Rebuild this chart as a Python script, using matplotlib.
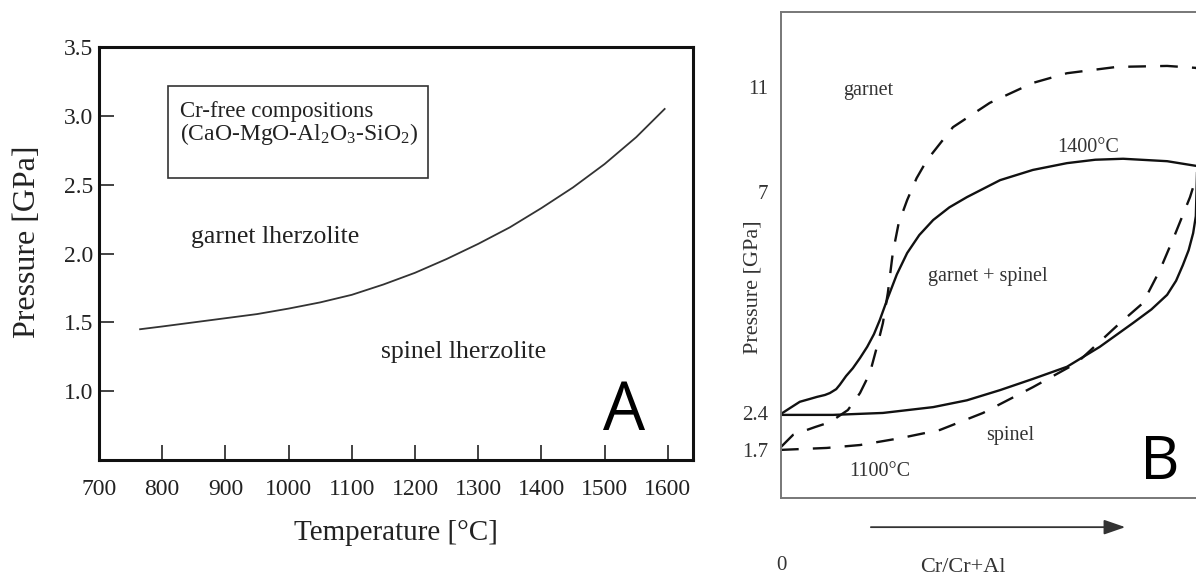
import matplotlib
matplotlib.use("Agg")
import matplotlib.pyplot as plt
from matplotlib.patches import Rectangle

plt.rcParams['font.family'] = ['Liberation Serif', 'DejaVu Serif']
plt.rcParams['mathtext.fontset'] = 'custom'
plt.rcParams['mathtext.rm'] = 'Liberation Serif'
plt.rcParams['mathtext.it'] = 'Liberation Serif:italic'

# --- panel A: garnet/spinel transition, Cr-free system ---
temperature = [765, 800, 850, 900, 950, 1000, 1050, 1100, 1150, 1200, 1250,
               1300, 1350, 1400, 1450, 1500, 1550, 1595]
pressure = [1.45, 1.47, 1.50, 1.53, 1.56, 1.60, 1.645, 1.70, 1.775, 1.86, 1.96,
            2.07, 2.19, 2.33, 2.48, 2.65, 2.845, 3.05]
a_xticks = [700, 800, 900, 1000, 1100, 1200, 1300, 1400, 1500, 1600]
a_yticks = [1.0, 1.5, 2.0, 2.5, 3.0, 3.5]

# --- panel B: schematic, Cr/(Cr+Al) vs relative pressure ---
b_ytick_pos = [0.099, 0.175, 0.630, 0.846]
b_ytick_lab = ['1.7', '2.4', '7', '11']

hot_upper_x = [0.0, 0.020, 0.042, 0.065, 0.080, 0.098, 0.109, 0.123, 0.131, 0.145,
               0.160, 0.176, 0.192, 0.207, 0.220, 0.238, 0.258, 0.281, 0.308, 0.339,
               0.375, 0.414, 0.488, 0.561, 0.637, 0.700, 0.762, 0.860, 0.927]
hot_upper_y = [0.173, 0.185, 0.198, 0.204, 0.208, 0.212, 0.216, 0.224, 0.233, 0.251,
               0.267, 0.288, 0.311, 0.337, 0.366, 0.412, 0.460, 0.504, 0.541, 0.572,
               0.598, 0.619, 0.654, 0.675, 0.689, 0.696, 0.698, 0.693, 0.683]
hot_lower_x = [0.0, 0.116, 0.227, 0.339, 0.414, 0.488, 0.561, 0.637, 0.710, 0.784,
               0.825, 0.860, 0.880, 0.895, 0.908, 0.918, 0.924, 0.927]
hot_lower_y = [0.171, 0.171, 0.175, 0.187, 0.201, 0.222, 0.245, 0.270, 0.311, 0.360,
               0.388, 0.418, 0.447, 0.479, 0.510, 0.545, 0.580, 0.683]

cold_upper_x = [0.0, 0.027, 0.076, 0.109, 0.149, 0.176, 0.198, 0.216, 0.227, 0.238,
                0.249, 0.262, 0.281, 0.302, 0.325, 0.383, 0.465, 0.561, 0.637, 0.748,
                0.860, 0.924, 0.967, 0.989]
cold_upper_y = [0.105, 0.130, 0.146, 0.156, 0.181, 0.216, 0.257, 0.319, 0.360, 0.422,
                0.504, 0.565, 0.613, 0.658, 0.695, 0.763, 0.813, 0.854, 0.874, 0.887,
                0.889, 0.885, 0.860, 0.819]
cold_lower_x = [0.0, 0.102, 0.176, 0.265, 0.354, 0.450, 0.561, 0.659, 0.755, 0.806,
                0.844, 0.877, 0.911, 0.944, 0.973, 0.989]
cold_lower_y = [0.099, 0.103, 0.109, 0.123, 0.140, 0.175, 0.228, 0.278, 0.360, 0.401,
                0.469, 0.541, 0.619, 0.716, 0.788, 0.819]

fig = plt.figure(figsize=(11.96, 5.79), dpi=100)

# panel A
ax = fig.add_axes([0.0828, 0.2055, 0.4967, 0.7133])
ax.plot(temperature, pressure, color='#333333', lw=1.3)
ax.set_xlim(700, 1640)
ax.set_ylim(0.5, 3.5)
ax.set_xticks(a_xticks)
ax.set_yticks(a_yticks)
ax.set_yticklabels(['%.1f' % v for v in a_yticks])
ax.tick_params(axis='both', direction='in', length=11, width=1.2, colors='#222222',
               labelsize=17)
ax.tick_params(axis='x', pad=14)
ax.tick_params(axis='y', pad=4)
ax.xaxis.get_major_ticks()[0].tick1line.set_visible(False)
ax.yaxis.get_major_ticks()[-1].tick1line.set_visible(False)
for s in ax.spines.values():
    s.set_linewidth(2.2)
    s.set_color('#111111')
ax.set_xlabel('Temperature [°C]', fontsize=21, color='#222222')
ax.xaxis.set_label_coords(0.5, -0.177)
ax.xaxis.label.set_va('center')
ax.set_ylabel('Pressure [GPa]', fontsize=23, color='#222222')
ax.yaxis.set_label_coords(-0.12, 0.528)
ax.yaxis.label.set_va('center')

ax.add_patch(Rectangle((809, 2.55), 411, 0.67, fill=False, edgecolor='#333333', lw=1.2))
ax.text(828, 3.03, 'Cr-free compositions', fontsize=16.5, color='#222222', va='center')
ax.text(828, 2.87, r'(CaO-MgO-Al$_2$O$_3$-SiO$_2$)', fontsize=17, color='#222222',
        va='center')
ax.text(979, 2.12, 'garnet lherzolite', fontsize=18.5, color='#222222',
        ha='center', va='center')
ax.text(1277, 1.285, 'spinel lherzolite', fontsize=18.5, color='#222222',
        ha='center', va='center')
ax.text(1530, 0.85, 'A', fontsize=48, family='Open Sans', ha='center', va='center')

# panel B
bx = fig.add_axes([0.653, 0.1399, 0.3754, 0.8394])
dash = (0, (7.5, 6))
bx.plot(hot_upper_x, hot_upper_y, color='#111111', lw=1.7)
bx.plot(hot_lower_x, hot_lower_y, color='#111111', lw=1.7)
bx.plot(cold_upper_x, cold_upper_y, color='#111111', lw=1.7, linestyle=dash)
bx.plot(cold_lower_x, cold_lower_y, color='#111111', lw=1.7, linestyle=dash)
bx.set_xlim(0, 1)
bx.set_ylim(0, 1)
bx.set_yticks(b_ytick_pos)
bx.set_yticklabels(b_ytick_lab)
bx.set_xticks([0])
bx.set_xticklabels(['0'])
bx.tick_params(axis='both', length=0, colors='#333333', labelsize=15)
bx.tick_params(axis='y', pad=9)
bx.tick_params(axis='x', pad=42)
for s in bx.spines.values():
    s.set_linewidth(1.4)
    s.set_color('#777777')
bx.set_ylabel('Pressure [GPa]', fontsize=16, color='#333333')
bx.yaxis.set_label_coords(-0.062, 0.434)
bx.yaxis.label.set_va('center')
bx.set_xlabel('Cr/Cr+Al', fontsize=16, color='#333333')
bx.xaxis.set_label_coords(0.405, -0.144)
bx.xaxis.label.set_va('center')
bx.annotate('', xy=(0.773, -0.060), xytext=(0.194, -0.060), xycoords='axes fraction',
            annotation_clip=False,
            arrowprops=dict(arrowstyle='-|>,head_length=1.3,head_width=0.45',
                            color='#333333', lw=1.3))

bx.text(0.194, 0.839, 'garnet', fontsize=14.5, color='#333333', ha='center', va='center')
bx.text(0.684, 0.722, '1400°C', fontsize=14.5, color='#333333', ha='center', va='center')
bx.text(0.461, 0.455, 'garnet + spinel', fontsize=14.5, color='#333333',
        ha='center', va='center')
bx.text(0.510, 0.128, 'spinel', fontsize=14.5, color='#333333', ha='center', va='center')
bx.text(0.220, 0.055, '1100°C', fontsize=14.5, color='#333333', ha='center', va='center')
bx.text(0.844, 0.072, 'B', fontsize=44, family='Open Sans', ha='center', va='center')

fig.savefig('out.png', dpi=100)
